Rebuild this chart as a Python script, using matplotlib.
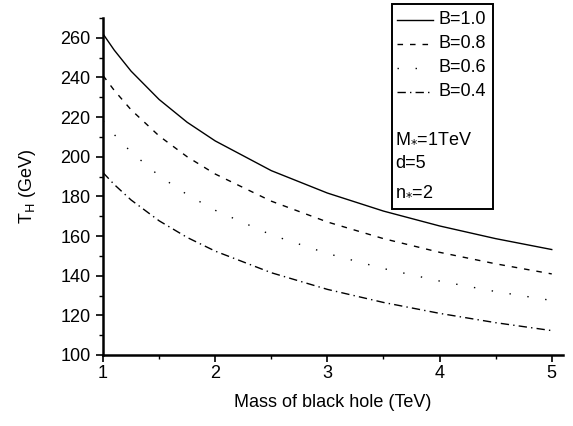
import matplotlib
matplotlib.use("Agg")
import matplotlib.pyplot as plt
from matplotlib.lines import Line2D
from matplotlib.patches import Rectangle
from matplotlib.ticker import MultipleLocator

plt.rcParams["font.family"] = ["Liberation Sans", "DejaVu Sans"]

# black hole mass (TeV) and temperature T_H (GeV)
mass = [1.0, 1.1, 1.25, 1.5, 1.75, 2.0, 2.5, 3.0, 3.5, 4.0, 4.5, 5.0]
t_b10 = [262, 253.8, 243.2, 228.9, 217.4, 208.0, 193.0, 181.7, 172.6, 165.1, 158.7, 153.2]
t_b08 = [241, 233.5, 223.7, 210.5, 200.0, 191.3, 177.6, 167.1, 158.7, 151.8, 146.0, 140.9]
t_b06 = [218, 211.2, 202.4, 190.4, 180.9, 173.0, 160.6, 151.2, 143.6, 137.3, 132.0, 127.5]
t_b04 = [192, 186.0, 178.2, 167.7, 159.3, 152.4, 141.5, 133.1, 126.5, 121.0, 116.3, 112.3]

labels = ["B=1.0", "B=0.8", "B=0.6", "B=0.4"]
notes = ["M$_{*}$=1TeV", "d=5", "n$_{*}$=2"]

styles = ["-", (0, (4, 5)), (0, (1, 12)), (0, (6, 3, 1, 3))]
series = [t_b10, t_b08, t_b06, t_b04]

FS = 13

fig = plt.figure(figsize=(5.73, 4.26), dpi=100)
ax = fig.add_axes([0.1798, 0.1667, 0.8027, 0.791])

for ys, ls in zip(series, styles):
    ax.plot(mass, ys, color="black", lw=1.0, linestyle=ls)

ax.set_xlim(1, 5.1)
ax.set_ylim(100, 270)
ax.xaxis.set_major_locator(MultipleLocator(1))
ax.xaxis.set_minor_locator(MultipleLocator(0.5))
ax.yaxis.set_major_locator(MultipleLocator(20))
ax.yaxis.set_minor_locator(MultipleLocator(10))
for s in ["top", "right"]:
    ax.spines[s].set_visible(False)
for s in ["left", "bottom"]:
    ax.spines[s].set_linewidth(1.8)
ax.tick_params(which="major", length=5, width=1.2, labelsize=FS)
ax.tick_params(axis="y", which="major", pad=4)
ax.tick_params(axis="x", which="major", pad=2)
ax.tick_params(which="minor", length=3, width=1.0)
ax.set_xlabel("Mass of black hole (TeV)", fontsize=FS, labelpad=9)
ax.set_ylabel("T$_{\\rm H}$ (GeV)", fontsize=FS)
ax.yaxis.set_label_coords(-0.141, 0.5)

# legend box drawn by hand, in figure coordinates
W, H = 573, 426
fig.patches.append(Rectangle((392 / W, 1 - 209 / H), 101 / W, 205 / H,
                             transform=fig.transFigure, fill=False,
                             edgecolor="black", lw=1.4))
for i, (lab, ls) in enumerate(zip(labels, styles)):
    yy = 1 - (20 + 24 * i) / H
    fig.lines.append(Line2D([397 / W, 433 / W], [yy, yy], transform=fig.transFigure,
                            color="black", lw=1.0, linestyle=ls))
    fig.text(439 / W, yy, lab, fontsize=FS, va="center", ha="left")
for i, note in enumerate(notes):
    yy = 1 - (137 + 27 * i) / H
    fig.text(395 / W, yy, note, fontsize=FS, va="center", ha="left")

fig.savefig("out.png", dpi=100)
